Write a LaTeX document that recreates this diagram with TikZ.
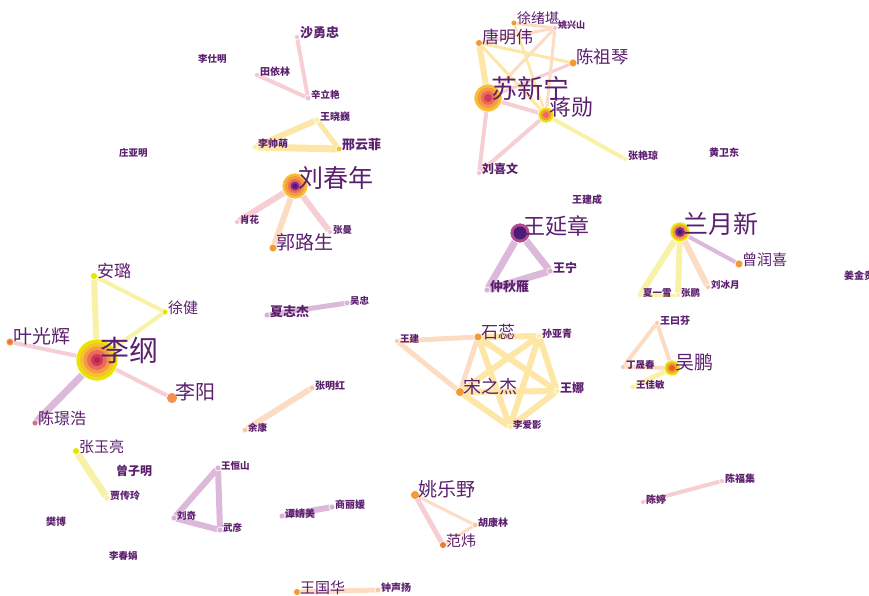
\documentclass[tikz,border=0pt]{standalone}
\usepackage{fontspec}
\setmainfont{Noto Sans CJK SC}
\usepackage{tikz}
\pgfdeclarelayer{bg}
\pgfsetlayers{bg,main}
\definecolor{txt}{HTML}{5B1F6E}
\definecolor{ey}{HTML}{F8F2A8}
\definecolor{eg}{HTML}{FDE6A6}
\definecolor{eo}{HTML}{FCDCC2}
\definecolor{ep}{HTML}{F6CED4}
\definecolor{eu}{HTML}{DCB9DA}
\definecolor{dy}{HTML}{E8E400}
\definecolor{dg}{HTML}{F8C030}
\definecolor{do}{HTML}{F49A35}
\definecolor{dl}{HTML}{F59050}
\definecolor{dr}{HTML}{E06888}
\definecolor{dw}{HTML}{F07A3A}
\definecolor{dpy}{HTML}{FBEFA8}
\definecolor{dpo}{HTML}{F8CBA8}
\definecolor{dpp}{HTML}{F2C4D2}
\definecolor{du}{HTML}{D8B0D8}
\definecolor{rO}{HTML}{F49A45}
\definecolor{rR}{HTML}{EC6A5C}
\definecolor{rD}{HTML}{D23A5A}
\definecolor{rC}{HTML}{C02050}
\definecolor{rP}{HTML}{8A2A88}
\definecolor{rV}{HTML}{4E1A7A}
\definecolor{rM}{HTML}{B04A90}
\definecolor{rE}{HTML}{E86010}
\begin{document}
\begin{tikzpicture}[x=1pt, y=-1pt]
\tikzset{dot/.style={circle, inner sep=0pt, draw=white, line width=0.6pt}}
\tikzset{authorlab/.style={text=txt, inner sep=0pt, anchor=base west}}
\useasboundingbox (0,0) rectangle (869,596);
\foreach \p/\x/\y/\d/\c in {
  ligang/97/360/42/dy, anlu/94/276/7/dy, xujian/165/312/6/dy,
  yeguanghui/10/342/8/do, liyang/172/398/11/dl, chenjinghao/35/423/6/dr,
  zhangyuliang/76/451/7/dy, jiachuanling/107/498/6/dpy,
  wanghengshan/218/468/6/du, liuqi/174/518/6/du, wuyan/220/530/6/du,
  zhangminghong/312/388/6/dpo, yukang/245/430/6/dpo,
  tanjingmei/282/516/6/du, shangliyuan/332/507/6/du,
  yaoleye/415/495/9/do, hukanglin/475/525/6/dpo, fanwei/443/545/7/dw,
  wangguohua/297/592/7/do, zhongshengyang/378/590/6/dpo,
  chenfuji/722/481/5/dpp, chenting/643/502/5/dpp,
  wangjian/397/341/5/dpo, shirui/478/337/8/do, sunyaqing/539/336/6/dpy,
  songzhijie/460/392/9/do, wangna/557/391/6/dpy, liaiying/510/427/6/dpy,
  wangyuefen/657/323/5/dpo, dingshengchun/623/367/5/dpo,
  wupeng/672/368/16/dy, wangjiamin/633/387/6/dpy,
  lanyuexin/680/232/20/dy, zengrunxi/739/264/8/do, xiayixue/640/295/5/dpy,
  zhangpeng/678/295/5/dpy, liubingyue/708/287/5/dpo,
  wangyanzhang/520/233/20/rM, wangning/550/271/6/du, zhongqiuyan/487/290/6/du,
  xiazhijie/267/315/6/du, wuzhong/347/303/6/du,
  liuchunnian/295/186/26/dg, xiaohua/237/222/5/dpp, zhangman/330/232/5/dpp,
  guolusheng/273/248/8/do,
  suxinning/488/98/28/dg, jiangxun/546/115/16/dy, tangmingwei/479/43/7/do,
  xuxukan/514/23/6/do, yaoxingshan/555/28/5/dpp, chenzuqin/573/63/8/do,
  zhangyanqiong/625/159/5/dpy, liuxiwen/479/173/5/dpp,
  shayongzhong/297/37/5/dpp, tianyilin/257/75/5/dpp, xinliyan/308/98/6/dpp,
  wangxiaowei/317/120/6/dpy, lishuaimeng/255/147/6/dpy, xingyunfei/339/149/6/dg}
  \node[dot, minimum size=\d pt, fill=\c] (\p) at (\x,\y) {};
\foreach \r/\c in {17/dg, 13.5/rO, 10/rR, 6/rD, 3/rC}
  \fill[\c] (ligang) circle (\r pt);
\foreach \r/\c in {10.5/rO, 7/rR, 4/rD}
  \fill[\c] (suxinning) circle (\r pt);
\foreach \r/\c in {10/rO, 7/rR, 4.5/rP, 2.5/rV}
  \fill[\c] (liuchunnian) circle (\r pt);
\foreach \r/\c in {5.5/rO, 3/rR}
  \fill[\c] (jiangxun) circle (\r pt);
\foreach \r/\c in {7.5/rO, 5/rP, 2.5/rV}
  \fill[\c] (lanyuexin) circle (\r pt);
\fill[rV] (wangyanzhang) circle (6.5pt);
\foreach \r/\c in {5.5/rO, 3/rE}
  \fill[\c] (wupeng) circle (\r pt);
\fill[rR] (yeguanghui) circle (2pt);
\coordinate (lishiming) at (195,62);
\coordinate (zhuangyaming) at (116,156);
\coordinate (huangweidong) at (706,156);
\coordinate (wangjiancheng) at (569,203);
\coordinate (jiangjingui) at (841,278);
\coordinate (zengziming) at (113,474);
\coordinate (fanbo) at (43,524);
\coordinate (lichunjuan) at (106,558);
\begin{pgfonlayer}{bg}
\foreach \a/\b/\c/\w in {
  ligang/anlu/ey/6, ligang/xujian/ey/4, anlu/xujian/ey/4,
  ligang/yeguanghui/ep/4, ligang/liyang/ep/4, ligang/chenjinghao/eu/7,
  zhangyuliang/jiachuanling/ey/7,
  wanghengshan/liuqi/eu/6, wanghengshan/wuyan/eu/6, liuqi/wuyan/eu/6,
  zhangminghong/yukang/eo/6, tanjingmei/shangliyuan/eu/6,
  yaoleye/fanwei/ep/5, yaoleye/hukanglin/eo/3, fanwei/hukanglin/eo/3,
  wangguohua/zhongshengyang/eo/5, chenfuji/chenting/ep/4,
  wangjian/shirui/eo/5, wangjian/songzhijie/eo/5, shirui/songzhijie/eo/5,
  shirui/sunyaqing/eg/6, shirui/wangna/eg/6, shirui/liaiying/eg/6,
  sunyaqing/songzhijie/eg/6, sunyaqing/wangna/eg/6, sunyaqing/liaiying/eg/6,
  songzhijie/wangna/eg/6, songzhijie/liaiying/eg/6, wangna/liaiying/eg/6,
  wangyuefen/dingshengchun/eo/4, wangyuefen/wupeng/eo/4,
  dingshengchun/wupeng/eo/4, wupeng/wangjiamin/ey/5,
  lanyuexin/xiayixue/ey/6, lanyuexin/zhangpeng/ey/6,
  lanyuexin/liubingyue/eo/6, lanyuexin/zengrunxi/eu/4, xiayixue/zhangpeng/ey/3,
  wangyanzhang/wangning/eu/7, wangyanzhang/zhongqiuyan/eu/7,
  wangning/zhongqiuyan/eu/7, xiazhijie/wuzhong/eu/5,
  liuchunnian/xiaohua/ep/6, liuchunnian/guolusheng/eo/6, liuchunnian/zhangman/ep/6,
  shayongzhong/xinliyan/ep/4, tianyilin/xinliyan/ep/4,
  wangxiaowei/lishuaimeng/eg/6, wangxiaowei/xingyunfei/eg/5,
  lishuaimeng/xingyunfei/eg/7,
  suxinning/tangmingwei/eg/6, suxinning/jiangxun/ep/4, suxinning/liuxiwen/ep/4,
  suxinning/chenzuqin/ep/3, suxinning/yaoxingshan/eo/3,
  tangmingwei/jiangxun/eg/3, tangmingwei/chenzuqin/eg/3,
  tangmingwei/yaoxingshan/eo/3,
  xuxukan/yaoxingshan/eo/3, yaoxingshan/jiangxun/eo/3, xuxukan/jiangxun/eg/2.5,
  jiangxun/liuxiwen/ep/4, jiangxun/zhangyanqiong/ey/4}
  \draw[\c, line width=\w pt, line cap=round] (\a) -- (\b);
\end{pgfonlayer}
\foreach \p/\s/\t in {
  ligang/29/李纲, anlu/17/安璐, xujian/15/徐健, yeguanghui/19/叶光辉,
  liyang/20/李阳, chenjinghao/16/陈璟浩, zhangyuliang/15/张玉亮,
  jiachuanling/10/贾传玲, wanghengshan/9.5/王恒山, liuqi/9.5/刘奇,
  wuyan/9.5/武彦, zhangminghong/10/张明红, yukang/9.5/余康,
  tanjingmei/10/谭婧美, shangliyuan/10/商丽媛, yaoleye/19/姚乐野,
  hukanglin/10/胡康林, fanwei/15/范炜, wangguohua/15/王国华,
  zhongshengyang/10/钟声扬, chenfuji/10/陈福集, chenting/10/陈婷,
  wangjian/9.5/王建, shirui/17/石蕊, sunyaqing/10/孙亚青,
  songzhijie/18/宋之杰, wangna/12/王娜, liaiying/9.5/李爱影,
  wangyuefen/10/王曰芬, dingshengchun/9.5/丁晟春, wupeng/19/吴鹏,
  wangjiamin/9.5/王佳敏, lanyuexin/25/兰月新, zengrunxi/15/曾润喜,
  xiayixue/9.5/夏一雪, zhangpeng/9.5/张鹏, liubingyue/9.5/刘冰月,
  wangyanzhang/22/王延章, wangning/12/王宁, zhongqiuyan/13/仲秋雁,
  xiazhijie/13/夏志杰, wuzhong/9.5/吴忠, liuchunnian/25/刘春年,
  xiaohua/9.5/肖花, zhangman/9.5/张曼, guolusheng/19/郭路生,
  suxinning/26/苏新宁, jiangxun/22/蒋勋, tangmingwei/17/唐明伟,
  xuxukan/14/徐绪堪, yaoxingshan/9/姚兴山, chenzuqin/17.5/陈祖琴,
  zhangyanqiong/10/张艳琼, liuxiwen/12/刘喜文, shayongzhong/13/沙勇忠,
  tianyilin/10/田依林, xinliyan/9.5/辛立艳, wangxiaowei/10/王晓巍,
  lishuaimeng/10/李帅萌, xingyunfei/13/邢云菲,
  lishiming/9.5/李仕明, zhuangyaming/9.5/庄亚明, huangweidong/10/黄卫东,
  wangjiancheng/10/王建成, jiangjingui/10/姜金贵, zengziming/12/曾子明,
  fanbo/10/樊博, lichunjuan/9.5/李春娟}
  \node[authorlab, font={\fontsize{\s}{\s}\selectfont\ifdim\s pt<14pt\bfseries\fi}]
    (\p-t) at ([xshift=3pt, yshift=-1pt]\p.center) {\t};
\end{tikzpicture}
\end{document}
